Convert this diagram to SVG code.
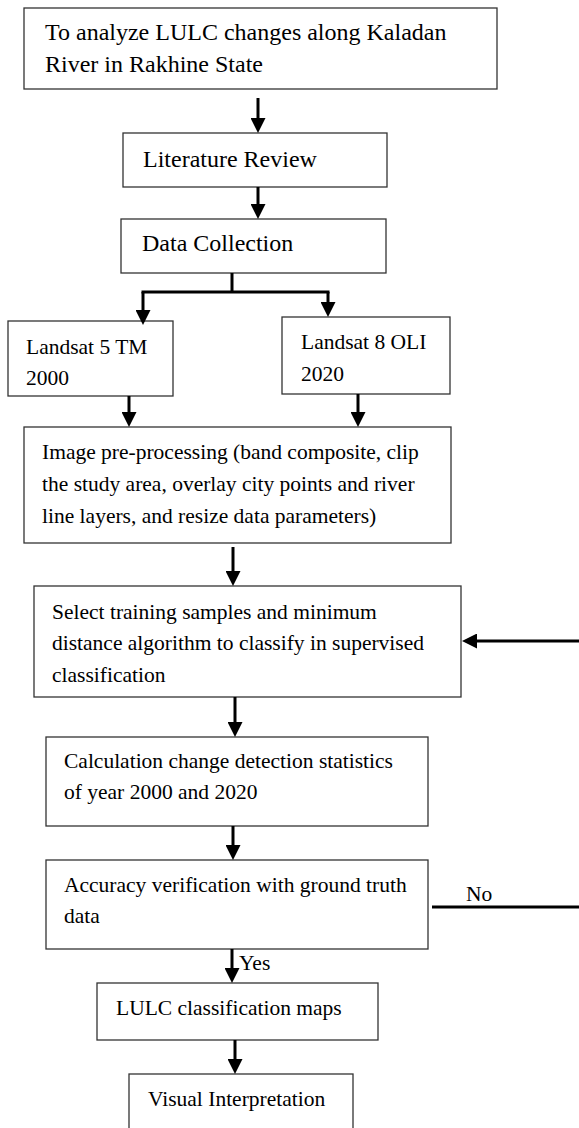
<svg xmlns="http://www.w3.org/2000/svg" width="579" height="1128" viewBox="0 0 579 1128">
<defs>
<style>
.box{fill:#fff;stroke:#333;stroke-width:1.3}
.t{font-family:"Liberation Serif","Times New Roman",serif;font-size:21.5px;fill:#000}
.big{font-size:24px}
.c{stroke:#000;stroke-width:3;fill:none}
</style>
<marker id="ah" viewBox="0 0 15 15" refX="0" refY="7.5" markerWidth="15" markerHeight="15" markerUnits="userSpaceOnUse" orient="auto">
<path d="M0,0 L15,7.5 L0,15 z" fill="#000"/>
</marker>
</defs>
<rect width="579" height="1128" fill="#fff"/>
<g id="n1"><rect class="box" x="24" y="8" width="473" height="81"/>
<text class="t big" x="45" y="40">To analyze LULC changes along Kaladan</text>
<text class="t big" x="45" y="72">River in Rakhine State</text></g>
<g id="n2"><rect class="box" x="123" y="133" width="264" height="54"/>
<text class="t big" x="143" y="167">Literature Review</text></g>
<g id="n3"><rect class="box" x="121" y="219" width="265" height="54"/>
<text class="t big" x="142" y="251">Data Collection</text></g>
<g id="n4"><rect class="box" x="8" y="321" width="165" height="75"/>
<text class="t" x="26" y="354">Landsat 5 TM</text>
<text class="t" x="26" y="385">2000</text></g>
<g id="n5"><rect class="box" x="282" y="317" width="168" height="77"/>
<text class="t" x="301" y="349">Landsat 8 OLI</text>
<text class="t" x="301" y="381">2020</text></g>
<g id="n6"><rect class="box" x="24" y="427" width="427" height="116"/>
<text class="t" x="42" y="459">Image pre-processing (band composite, clip</text>
<text class="t" x="42" y="491">the study area, overlay city points and river</text>
<text class="t" x="42" y="523">line layers, and resize data parameters)</text></g>
<g id="n7"><rect class="box" x="34" y="586" width="427" height="111"/>
<text class="t" x="52" y="619">Select training samples and minimum</text>
<text class="t" x="52" y="650">distance algorithm to classify in supervised</text>
<text class="t" x="52" y="682">classification</text></g>
<g id="n8"><rect class="box" x="46" y="737" width="382" height="89"/>
<text class="t" x="64" y="768">Calculation change detection statistics</text>
<text class="t" x="64" y="799">of year 2000 and 2020</text></g>
<g id="n9"><rect class="box" x="46" y="860" width="382" height="89"/>
<text class="t" x="64" y="892">Accuracy verification with ground truth</text>
<text class="t" x="64" y="923">data</text></g>
<g id="n10"><rect class="box" x="97" y="983" width="281" height="57"/>
<text class="t" x="116" y="1015">LULC classification maps</text></g>
<g id="n11"><rect class="box" x="129" y="1074" width="224" height="60"/>
<text class="t" x="148" y="1106">Visual Interpretation</text></g>
<g id="connectors">
<line class="c" x1="258" y1="98" x2="258" y2="118" marker-end="url(#ah)"/>
<line class="c" x1="258" y1="187" x2="258" y2="204" marker-end="url(#ah)"/>
<line class="c" x1="232" y1="273" x2="232" y2="292"/>
<line class="c" x1="141.5" y1="292" x2="329.5" y2="292"/>
<line class="c" x1="143" y1="292" x2="143" y2="310" marker-end="url(#ah)"/>
<line class="c" x1="328" y1="292" x2="328" y2="302" marker-end="url(#ah)"/>
<line class="c" x1="129" y1="396" x2="129" y2="412" marker-end="url(#ah)"/>
<line class="c" x1="358" y1="394" x2="358" y2="412" marker-end="url(#ah)"/>
<line class="c" x1="233" y1="547" x2="233" y2="571" marker-end="url(#ah)"/>
<line class="c" x1="579" y1="641" x2="477" y2="641" marker-end="url(#ah)"/>
<line class="c" x1="235" y1="697" x2="235" y2="722" marker-end="url(#ah)"/>
<line class="c" x1="233" y1="826" x2="233" y2="845" marker-end="url(#ah)"/>
<line class="c" x1="432" y1="907" x2="579" y2="907"/>
<line class="c" x1="232" y1="949" x2="232" y2="968" marker-end="url(#ah)"/>
<line class="c" x1="235" y1="1040" x2="235" y2="1059" marker-end="url(#ah)"/>
<text class="t" x="466" y="901">No</text>
<text class="t" x="239" y="970">Yes</text>
</g>
</svg>
